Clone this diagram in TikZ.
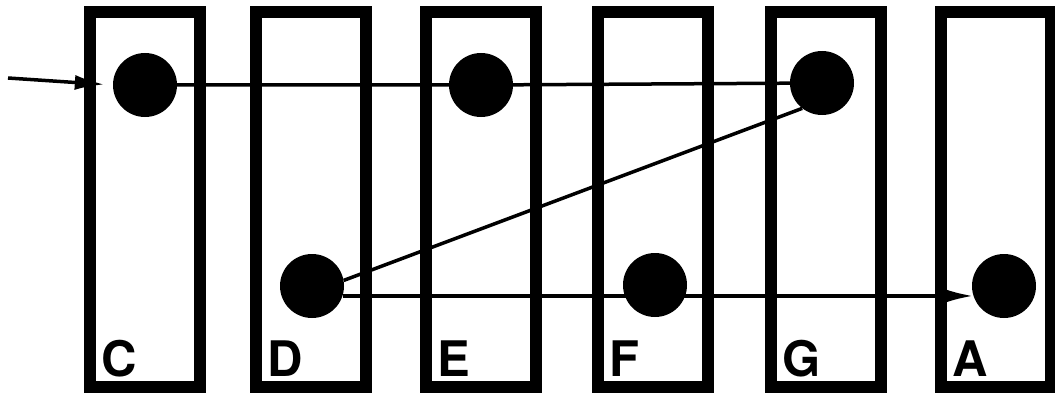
\documentclass[tikz,border=0pt]{standalone}
\usepackage{fontspec}
\setmainfont{TeX Gyre Heros}
\usetikzlibrary{arrows.meta}

\begin{document}
\begin{tikzpicture}[x=1pt,y=-1pt,>={Latex[length=30pt,width=15pt]},
    bar/.style={draw,line width=12pt,minimum width=110pt,minimum height=375pt,inner sep=0pt},
    dot/.style={circle,fill,minimum size=64pt,inner sep=0pt},
    lbl/.style={anchor=base west,inner sep=0pt,font=\fontsize{49}{49}\selectfont\bfseries},
    link/.style={line width=3.5pt}]
    \useasboundingbox (0,0) rectangle (1055,396);
    \foreach \x/\n in {145/C,311/D,481/E,653/F,826/G,996/A}{
      \node[bar] (bar\n) at (\x,199.5) {};
      \node[lbl] (lbl\n) at ([xshift=17pt,yshift=17pt]bar\n.south west) {\n};
    }
    \node[dot] (c) at (145,85) {};
    \node[dot] (e) at (481,85) {};
    \node[dot] (g) at (822,83) {};
    \node[dot] (d) at (312,286) {};
    \node[dot] (f) at (655,285) {};
    \node[dot] (a) at (1004,286) {};
    \coordinate (in) at (8,78);
    \draw[link,->,shorten >=8pt] (in) -- (c.west);
    \draw[link] (c) -- (e) -- (g);
    \draw[link] (g.232) -- (d.10);
    \draw[link,->] (d.-18) -- (a.198);
\end{tikzpicture}
\end{document}
